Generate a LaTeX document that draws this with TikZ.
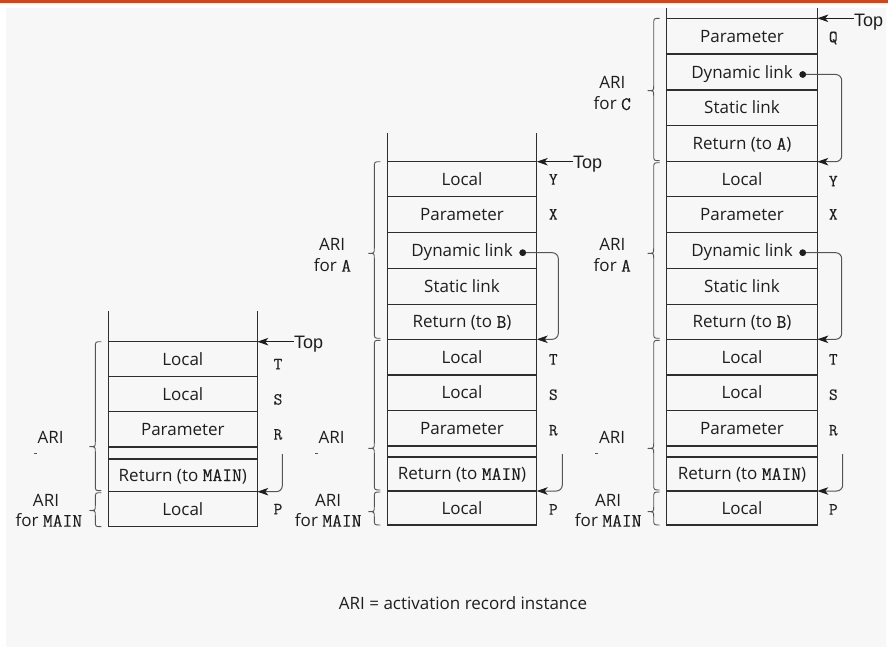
\documentclass[tikz,border=0pt]{standalone}
\usepackage{fontspec}
\setmainfont{Open Sans}
\newfontfamily\monof[FakeBold=0.2]{Latin Modern Mono}
\newfontfamily\topf{Liberation Sans}
\usetikzlibrary{arrows.meta}
\definecolor{bgpanel}{HTML}{F7F7F7}
\definecolor{barc}{HTML}{D2461E}
\definecolor{ink}{HTML}{1E1E1E}
\definecolor{linec}{HTML}{2E2E2E}
\definecolor{conn}{HTML}{555555}
\newcommand\mm[1]{{\monof\fontsize{19}{20}\selectfont #1}}
\newcommand\cellnode[6]{\node[cellbox, minimum width={(#3-#2)*1pt}, minimum height={(#5-#4)*1pt}] (#1) at ({(#2+#3)/2},{(#4+#5)/2}) {#6};}
\newcommand\ribrace[4]{\draw[brc] ({#1-7},{#2}) .. controls ({#1-13},{#2}) .. ({#1-13},{#2+6}) -- ({#1-13},{#4-5}) .. controls ({#1-13},{#4}) .. ({#1-19},{#4}) .. controls ({#1-13},{#4}) .. ({#1-13},{#4+5}) -- ({#1-13},{#3-6}) .. controls ({#1-13},{#3}) .. ({#1-7},{#3});}
\tikzset{
  cellbox/.style={draw=linec, line width=1.1pt, rectangle, inner sep=0pt, outer sep=0pt,
    font=\fontsize{17}{20}\selectfont, text=ink, text height=12.1pt, text depth=0pt},
  stackline/.style={draw=linec, line width=1.1pt},
  reglbl/.style={font=\monof\fontsize{17}{18}\selectfont, text=ink, inner sep=0pt, anchor=base},
  aritext/.style={font=\fontsize{17}{20}\selectfont, text=ink, inner sep=0pt, anchor=base},
  toptext/.style={font=\topf\fontsize{18}{20}\selectfont, text=ink, inner sep=0pt, anchor=west,
    text height=12.9pt, text depth=0pt},
  brc/.style={draw=conn, line width=0.9pt},
  link/.style={draw=conn, line width=1pt, rounded corners=6pt,
    -{Stealth[length=11pt,width=7.5pt,inset=3pt,color=ink]}},
  toparrow/.style={draw=ink, line width=1pt, -{Stealth[length=11pt,width=7.5pt,inset=3pt]}},
  dotnode/.style={circle, fill=ink, inner sep=0pt, minimum size=6.5pt},
  tick/.style={draw=conn, line width=0.8pt},
}
\begin{document}
\begin{tikzpicture}[x=1pt,y=-1pt]
\useasboundingbox (0,0) rectangle (888,647);
\fill[white] (0,0) rectangle (888,647);
\fill[bgpanel] (6,8) rectangle (886,647);
\fill[barc] (0,0) rectangle (888,2.7);

% ---------- left stack ----------
\cellnode{LT}{108.3}{257.3}{341.7}{376.7}{Local}
\cellnode{LS}{108.3}{257.3}{376.7}{411.7}{Local}
\cellnode{LR}{108.3}{257.3}{411.7}{447.7}{Parameter}
\cellnode{LG}{108.3}{257.3}{447.7}{458.3}{}
\cellnode{LRet}{108.3}{257.3}{458.3}{491.7}{Return (to \mm{MAIN})}
\cellnode{LP}{108.3}{257.3}{491.7}{526.7}{Local}
\draw[stackline] (LT.north west) -- ++(0,-30.7);
\draw[stackline] (LT.north east) -- ++(0,-30.7);
\node[reglbl] (lblLT) at (278,369.3) {T};
\node[reglbl] (lblLS) at (278,404.6) {S};
\node[reglbl] (lblLR) at (278,439.6) {R};
\node[reglbl] (lblLP) at (278,514.3) {P};
\node[toptext] (topL) at (294,341.7) {Top};
\draw[toparrow] (topL.west) -- (LT.north east);
\coordinate (hL) at (282.3,454);
\draw[link] (hL) -- (hL |- LP.north east) -- (LP.north east);
\ribrace{108.3}{341.7}{490.7}{446.7}
\ribrace{108.3}{492.7}{526.7}{510.5}
\node[aritext] (ariL1) at (50.7,443.3) {ARI};
\draw[tick] (34,453) -- (36.5,453);
\node[aritext] (ariL2) at (46,506.7) {ARI};
\node[aritext, anchor=base east] (forL2) at (82.3,526.7) {for \mm{MAIN}};

% ---------- middle stack ----------
\cellnode{MY}{387.3}{536.7}{161.7}{196.7}{Local}
\cellnode{MX}{387.3}{536.7}{196.7}{232.7}{Parameter}
\cellnode{MD}{387.3}{536.7}{232.7}{268.3}{Dynamic link}
\cellnode{MSL}{387.3}{536.7}{268.3}{304.3}{Static link}
\cellnode{MRB}{387.3}{536.7}{304.3}{339.3}{Return (to \mm{B})}
\cellnode{MT}{387.3}{536.7}{339.3}{375}{Local}
\cellnode{MS}{387.3}{536.7}{375}{410.7}{Local}
\cellnode{MR}{387.3}{536.7}{410.7}{446.7}{Parameter}
\cellnode{MG}{387.3}{536.7}{446.7}{456.7}{}
\cellnode{MRet}{387.3}{536.7}{456.7}{491}{Return (to \mm{MAIN})}
\cellnode{MP}{387.3}{536.7}{491}{525}{Local}
\draw[stackline] (MY.north west) -- ++(0,-29);
\draw[stackline] (MY.north east) -- ++(0,-29);
\node[reglbl] (lblMY) at (553.3,184.6) {Y};
\node[reglbl] (lblMX) at (553.3,219.6) {X};
\node[reglbl] (lblMT) at (553.3,364.6) {T};
\node[reglbl] (lblMS) at (553.3,399.9) {S};
\node[reglbl] (lblMR) at (553.3,435.4) {R};
\node[reglbl] (lblMP) at (553.3,514.6) {P};
\node[toptext] (topM) at (573,161.7) {Top};
\draw[toparrow] (topM.west) -- (MY.north east);
\node[dotnode] (dM) at (522.7,252.7) {};
\coordinate (vM) at (558.3,0);
\draw[link] (dM.center) -- (dM.center -| vM) -- (vM |- MT.north east) -- (MT.north east);
\node[dotnode] (dM2) at (522.7,252.7) {};
\coordinate (hM) at (562.3,454);
\draw[link] (hM) -- (hM |- MP.north east) -- (MP.north east);
\ribrace{387.3}{161.7}{338.3}{253.3}
\ribrace{387.3}{340.3}{490}{448.3}
\ribrace{387.3}{492}{525}{511.7}
\node[aritext] (ariM1) at (332,250) {ARI};
\node[aritext] (forM1) at (332.5,271.7) {for \mm{A}};
\node[aritext] (ariM2) at (331.7,443.3) {ARI};
\draw[tick] (315,453.3) -- (317.5,453.3);
\node[aritext] (ariM3) at (328,506.7) {ARI};
\node[aritext, anchor=base east] (forM3) at (361.7,526.7) {for \mm{MAIN}};

% ---------- right stack ----------
\cellnode{RQ}{666.7}{817.3}{18.3}{54}{Parameter}
\cellnode{RD1}{666.7}{817.3}{54}{90}{Dynamic link}
\cellnode{RSL1}{666.7}{817.3}{90}{125.7}{Static link}
\cellnode{RRA}{666.7}{817.3}{125.7}{161.7}{Return (to \mm{A})}
\cellnode{RY}{666.7}{817.3}{161.7}{196.7}{Local}
\cellnode{RX}{666.7}{817.3}{196.7}{232.7}{Parameter}
\cellnode{RD2}{666.7}{817.3}{232.7}{268.3}{Dynamic link}
\cellnode{RSL2}{666.7}{817.3}{268.3}{304.3}{Static link}
\cellnode{RRB}{666.7}{817.3}{304.3}{339.3}{Return (to \mm{B})}
\cellnode{RT}{666.7}{817.3}{339.3}{375}{Local}
\cellnode{RS}{666.7}{817.3}{375}{410.7}{Local}
\cellnode{RR}{666.7}{817.3}{410.7}{446.7}{Parameter}
\cellnode{RG}{666.7}{817.3}{446.7}{456.7}{}
\cellnode{RRet}{666.7}{817.3}{456.7}{491}{Return (to \mm{MAIN})}
\cellnode{RP}{666.7}{817.3}{491}{525}{Local}
\draw[stackline] (RQ.north west) -- ++(0,-10.3);
\draw[stackline] (RQ.north east) -- ++(0,-10.3);
\node[reglbl] (lblRQ) at (833.3,42.1) {Q};
\node[reglbl] (lblRY) at (833.3,186.3) {Y};
\node[reglbl] (lblRX) at (833.3,219.6) {X};
\node[reglbl] (lblRT) at (833.3,364.6) {T};
\node[reglbl] (lblRS) at (833.3,399.9) {S};
\node[reglbl] (lblRR) at (833.3,435.4) {R};
\node[reglbl] (lblRP) at (833.3,514.6) {P};
\node[toptext] (topR) at (854,19.8) {Top};
\draw[toparrow] (topR.west |- RQ.north east) -- (RQ.north east);
\coordinate (vR) at (841.7,0);
\node[dotnode] (dR1) at (802.7,74.5) {};
\draw[link] (dR1.center) -- (dR1.center -| vR) -- (vR |- RY.north east) -- (RY.north east);
\node[dotnode] (dR1b) at (802.7,74.5) {};
\node[dotnode] (dR2) at (802.7,252.7) {};
\draw[link] (dR2.center) -- (dR2.center -| vR) -- (vR |- RT.north east) -- (RT.north east);
\node[dotnode] (dR2b) at (802.7,252.7) {};
\coordinate (hR) at (842.7,454);
\draw[link] (hR) -- (hR |- RP.north east) -- (RP.north east);
\ribrace{666.7}{18.3}{160.7}{90.7}
\ribrace{666.7}{162.7}{338.3}{253.3}
\ribrace{666.7}{340.3}{490}{448.3}
\ribrace{666.7}{492}{525}{511.7}
\node[aritext] (ariR1) at (612.3,88.3) {ARI};
\node[aritext] (forR1) at (612.3,110) {for \mm{C}};
\node[aritext] (ariR2) at (612.3,250) {ARI};
\node[aritext] (forR2) at (612.3,271.7) {for \mm{A}};
\node[aritext] (ariR3) at (612,443.3) {ARI};
\draw[tick] (595,453) -- (597.5,453);
\node[aritext] (ariR4) at (608,506.7) {ARI};
\node[aritext, anchor=base east] (forR4) at (641.7,526.7) {for \mm{MAIN}};

% ---------- footnote ----------
\node[aritext] (note) at (463,609) {ARI = activation record instance};
\end{tikzpicture}
\end{document}
